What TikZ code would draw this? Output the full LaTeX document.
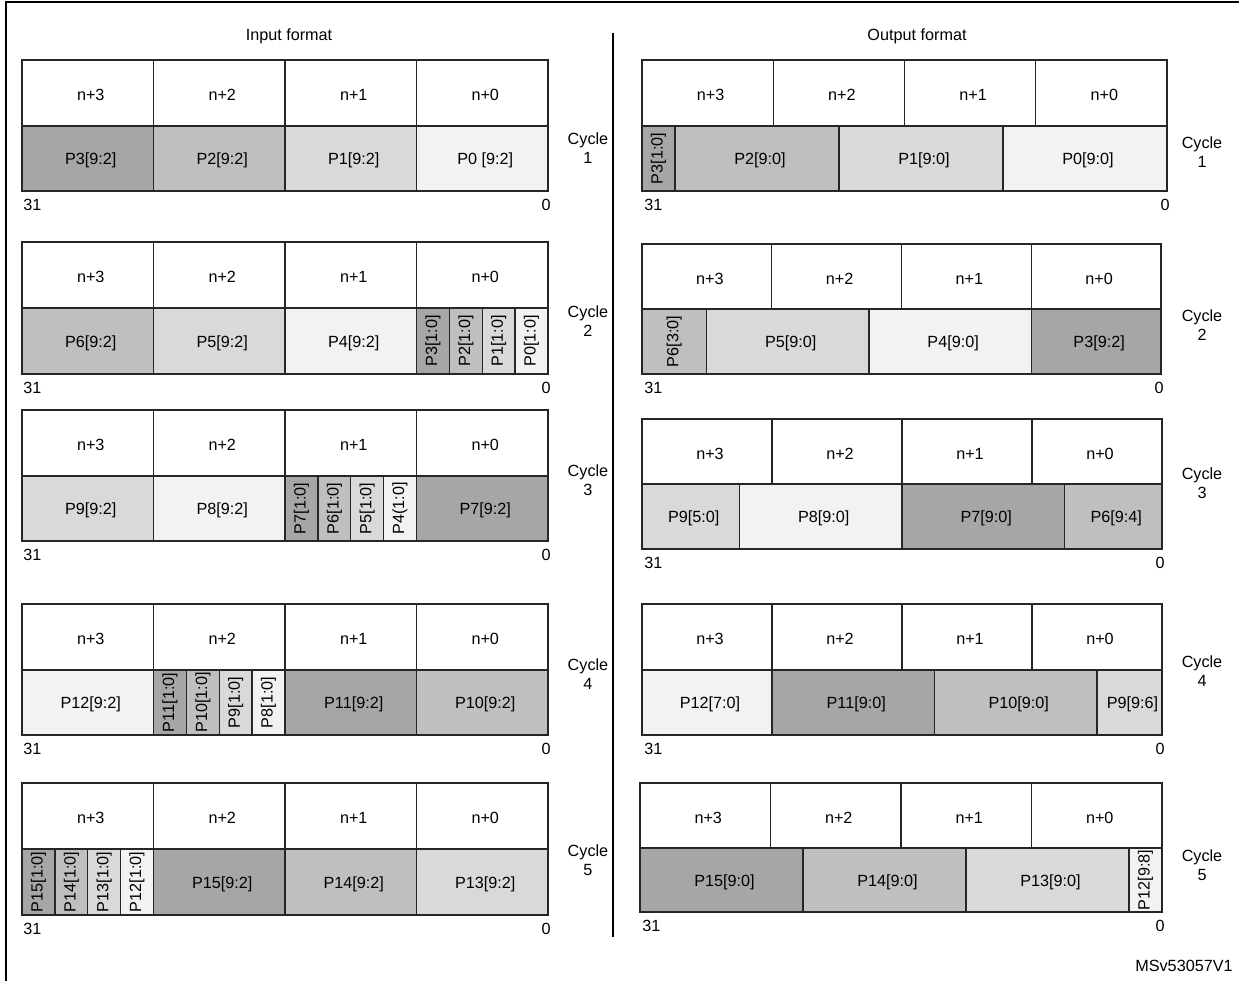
\documentclass[tikz,border=0pt]{standalone}
\usepackage{fontspec}
\setmainfont{Liberation Sans}
\definecolor{pxA}{HTML}{F2F2F2}
\definecolor{pxB}{HTML}{D9D9D9}
\definecolor{pxC}{HTML}{BFBFBF}
\definecolor{pxD}{HTML}{A6A6A6}
\tikzset{
  cell/.style={draw=black!85,line width=0.7pt},
  lbl/.style={font=\fontsize{8.1}{9.4}\selectfont,inner sep=0pt},
  txt/.style={lbl,xshift=1.5pt,yshift=-1pt},
  cyc/.style={lbl,align=center},
}
\begin{document}
\begin{tikzpicture}[x=0.5pt,y=-0.5pt]
	\useasboundingbox (0,0) rectangle (1239,981);
	%frame
	\draw[line width=1pt] (6,981) -- (6,2) -- (1239,2);

	%titles
	\node[lbl] (intitle) at (289,36) {Input format};
	\node[lbl] (outtitle) at (917,36) {Output format};
	\draw[line width=0.7pt] (613,33) -- (613,937); %separator

	%input top rows, bit labels and cycles
	\foreach \c/\ya/\yb/\yc/\yl in {1/60/126/191/148, 2/242/308/374/321, 3/410/476/541/480, 4/604/670/735/674, 5/783/849/915/860} {
		\foreach \l [count=\i from 0] in {n+3,n+2,n+1,n+0}
			\draw[cell] ({22+131.5*\i},\ya) rectangle node[txt] (in\c n\i) {\l} ({22+131.5*(\i+1)},\yb);
		\node[lbl,anchor=west] (in\c msb) at (23,\yc+14) {31};
		\node[lbl,anchor=east] (in\c lsb) at (551,\yc+14) {0};
		\node[cyc] (in\c cyc) at (588,\yl) {Cycle\\\c};
	}

	%input pixel cells
	\foreach \ya/\yb/\xa/\xb/\f/\r/\t [count=\k] in {
		126/191/22/153.5/pxD/0/P3[9:2], 126/191/153.5/285/pxC/0/P2[9:2], 126/191/285/416.5/pxB/0/P1[9:2], 126/191/416.5/548/pxA/0/P0 [9:2],
		308/374/22/153.5/pxC/0/P6[9:2], 308/374/153.5/285/pxB/0/P5[9:2], 308/374/285/416.5/pxA/0/P4[9:2],
		308/374/416.5/449.4/pxD/90/P3[1:0], 308/374/449.4/482.25/pxC/90/P2[1:0], 308/374/482.25/515.1/pxB/90/P1[1:0], 308/374/515.1/548/pxA/90/P0[1:0],
		476/541/22/153.5/pxB/0/P9[9:2], 476/541/153.5/285/pxA/0/P8[9:2],
		476/541/285/317.9/pxD/90/P7[1:0], 476/541/317.9/350.75/pxC/90/P6[1:0], 476/541/350.75/383.6/pxB/90/P5[1:0], 476/541/383.6/416.5/pxA/90/P4(1:0],
		476/541/416.5/548/pxD/0/P7[9:2],
		670/735/22/153.5/pxA/0/P12[9:2],
		670/735/153.5/186.4/pxD/90/P11[1:0], 670/735/186.4/219.25/pxC/90/P10[1:0], 670/735/219.25/252.1/pxB/90/P9[1:0], 670/735/252.1/285/pxA/90/P8[1:0],
		670/735/285/416.5/pxD/0/P11[9:2], 670/735/416.5/548/pxC/0/P10[9:2],
		849/915/22/54.9/pxD/90/P15[1:0], 849/915/54.9/87.75/pxC/90/P14[1:0], 849/915/87.75/120.6/pxB/90/P13[1:0], 849/915/120.6/153.5/pxA/90/P12[1:0],
		849/915/153.5/285/pxD/0/P15[9:2], 849/915/285/416.5/pxC/0/P14[9:2], 849/915/416.5/548/pxB/0/P13[9:2]}
		\filldraw[cell,fill=\f] (\xa,\ya) rectangle node[lbl,rotate=\r,xshift={1.5*(\r==0)},yshift={-1*(\r==0)}] (inp\k) {\t} (\xb,\yb);

	%output top rows, bit labels and cycles
	\foreach \c/\xl/\w/\ya/\yb/\yc/\yl in {1/642/131.25/60/126/191/152, 2/642/129.75/244/309/374/325, 3/642/130/419/484/549/483, 4/642/130/604/670/735/671, 5/640/130.5/783/848/912/865} {
		\foreach \l [count=\i from 0] in {n+3,n+2,n+1,n+0}
			\draw[cell] ({\xl+\w*\i},\ya) rectangle node[txt] (out\c n\i) {\l} ({\xl+\w*(\i+1)},\yb);
		\node[lbl,anchor=west] (out\c msb) at (\xl+2,\yc+13.5) {31};
		\node[lbl,anchor=east] (out\c lsb) at ({\xl+4*\w+3},\yc+13.5) {0};
		\node[cyc] (out\c cyc) at (1202,\yl) {Cycle\\\c};
	}

	%output pixel cells
	\foreach \ya/\yb/\xa/\xb/\f/\r/\t [count=\k] in {
		126/191/642/675/pxD/90/P3[1:0], 126/191/675/839/pxC/0/P2[9:0], 126/191/839/1003/pxB/0/P1[9:0], 126/191/1003/1167/pxA/0/P0[9:0],
		309/374/642/706.5/pxC/90/P6[3:0], 309/374/706.5/869/pxB/0/P5[9:0], 309/374/869/1031.25/pxA/0/P4[9:0], 309/374/1031.25/1161/pxD/0/P3[9:2],
		484/549/642/739.5/pxB/0/P9[5:0], 484/549/739.5/902/pxA/0/P8[9:0], 484/549/902/1064.5/pxD/0/P7[9:0], 484/549/1064.5/1162/pxC/0/P6[9:4],
		670/735/642/772/pxA/0/P12[7:0], 670/735/772/934.5/pxD/0/P11[9:0], 670/735/934.5/1097/pxC/0/P10[9:0], 670/735/1097/1162/pxB/0/P9[9:6],
		848/912/640/803/pxD/0/P15[9:0], 848/912/803/966/pxC/0/P14[9:0], 848/912/966/1129/pxB/0/P13[9:0], 848/912/1129/1162/pxA/90/P12[9:8]}
		\filldraw[cell,fill=\f] (\xa,\ya) rectangle node[lbl,rotate=\r,xshift={1.5*(\r==0)},yshift={-1*(\r==0)}] (outp\k) {\t} (\xb,\yb);

	\node[lbl,anchor=east] (docid) at (1233,966) {MSv53057V1};
\end{tikzpicture}
\end{document}
